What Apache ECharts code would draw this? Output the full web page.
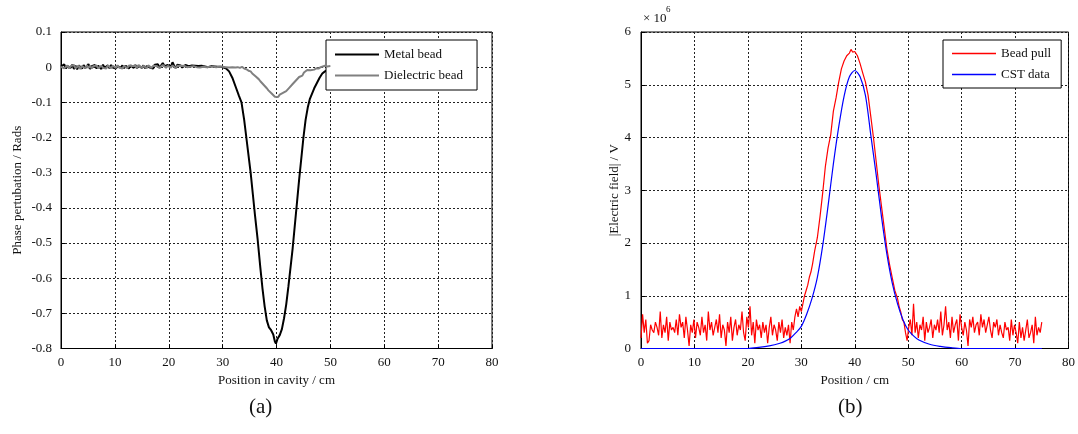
<!DOCTYPE html>
<html>
<head>
<meta charset="utf-8">
<script src="https://cdn.jsdelivr.net/npm/echarts@6/dist/echarts.min.js"></script>
<style>
html,body{margin:0;padding:0;background:#fff;}
#c{width:1078px;height:434px;}
</style>
</head>
<body>
<div id="c"></div>
<script>
// ---------- (a) Phase perturbation ----------
const xTicks = [0, 10, 20, 30, 40, 50, 60, 70, 80];
const leftYTicks = [0.1, 0, -0.1, -0.2, -0.3, -0.4, -0.5, -0.6, -0.7, -0.8];
const sampleStep = 0.3; // cm between flat-region samples

// Metal bead: flat region samples from 0 cm
const metalFlatY = [
0.002,-0.003,0.008,-0.004,0.003,0.006,-0.002,0.007,-0.005,0.004,
-0.006,0.005,0.001,-0.004,0.006,-0.003,0.002,0.009,-0.005,0.003,
-0.002,0.006,-0.004,0.004,0.001,-0.005,0.007,-0.002,0.003,0.005,
-0.003,0.006,-0.001,0.004,-0.004,0.003,0.006,-0.002,0.005,-0.003,
0.004,0.001,-0.004,0.005,0.002,-0.002,0.006,-0.003,0.004,0.001,
-0.002,0.005,-0.003,0.003,0.006,-0.001,0.004,-0.004,0.007,0.002,
0.008,-0.002,0.005,0.012,0.003,-0.001,0.006,0.009,0.002,0.014,
0.004,-0.002,0.007,0.003,0.005,-0.001,0.004,0.006,0.001,0.003,
-0.002,0.005,0.002,0.004,-0.001,0.003,0.002,0.004,0.001,0.002,
0.003,0.000,0.002,0.003,0.001,0.002,0.000,0.001,0.002,0.001,
0.000];
const metalDipX = [30.6,31.2,31.8,32.4,33,33.5,34,34.4,34.8,35.2,35.6,36,36.5,37,37.4,37.8,38.2,38.6,39,39.4,39.7,39.9,40.2,40.6,41,41.4,41.8,42.2,42.6,43,43.4,43.8,44.2,44.6,45,45.4,45.8,46.2,46.6,47,47.5,48,48.5,49,49.5,50];
const metalDipY = [-0.003,-0.012,-0.03,-0.055,-0.08,-0.1,-0.15,-0.2,-0.25,-0.3,-0.36,-0.42,-0.49,-0.57,-0.63,-0.68,-0.72,-0.74,-0.748,-0.76,-0.78,-0.786,-0.772,-0.762,-0.745,-0.714,-0.675,-0.625,-0.57,-0.515,-0.45,-0.385,-0.32,-0.26,-0.2,-0.15,-0.115,-0.09,-0.075,-0.06,-0.045,-0.03,-0.018,-0.012,-0.008,-0.005];

// Dielectric bead
const dielFlatY = [
0.001,0.004,-0.003,0.002,0.005,-0.004,0.003,-0.002,0.006,-0.003,
0.002,0.004,-0.005,0.003,0.001,-0.003,0.005,-0.002,0.004,-0.004,
0.003,0.000,0.005,-0.003,0.002,0.004,-0.002,0.003,-0.004,0.005,
0.001,-0.003,0.004,0.002,-0.002,0.005,-0.001,0.003,-0.004,0.004,
0.002,-0.003,0.005,0.000,0.003,-0.002,0.004,-0.003,0.006,0.001,
-0.002,0.004,0.002,-0.003,0.005,0.001,-0.002,0.004,-0.001,0.003,
0.005,-0.002,0.003,0.006,0.001,-0.002,0.004,0.002,-0.001,0.005,
0.002,-0.003,0.004,0.001,0.003,-0.002,0.004,0.002,0.000,0.003,
0.001,-0.002,0.003,0.002,0.000,0.003,-0.001,0.002,0.001,0.002,
0.000,0.002,0.001,-0.001,0.002,0.001,0.000,0.002,0.001,-0.001,
0.001,0.002,0.000,0.001,-0.001,0.001,0.000,0.001,-0.001];
const dielDipX = [32.8,33.2,33.6,34,34.4,34.8,35.2,35.5,35.8,36.1,36.4,36.7,37,37.3,37.6,37.9,38.2,38.5,38.8,39.1,39.4,39.7,40,40.3,40.6,40.9,41.2,41.5,41.8,42.1,42.4,42.7,43,43.3,43.6,43.9,44.2,44.5,44.8,45.1,45.4,45.7,46,46.3,46.6,47,47.4,47.8,48.2,48.6,49,49.4,50];
const dielDipY = [0.0,-0.002,0.001,-0.004,-0.006,-0.01,-0.012,-0.018,-0.02,-0.026,-0.03,-0.034,-0.04,-0.043,-0.05,-0.055,-0.06,-0.066,-0.07,-0.075,-0.078,-0.084,-0.08,-0.085,-0.078,-0.08,-0.073,-0.075,-0.068,-0.066,-0.058,-0.055,-0.048,-0.045,-0.038,-0.034,-0.028,-0.03,-0.024,-0.015,-0.01,-0.008,-0.006,-0.009,-0.005,-0.007,-0.003,-0.004,0.0,0.002,0.004,0.002,0.003];

// ---------- (b) Electric field (units of 10^6 V) ----------
const rightYTicks = [0, 1, 2, 3, 4, 5, 6];
const beadLeftY = [
0.2,0.65,0.3,0.55,0.1,0.15,0.45,0.35,0.3,0.5,
0.4,0.25,0.7,0.2,0.45,0.3,0.6,0.15,0.5,0.35,
0.4,0.3,0.55,0.25,0.65,0.4,0.5,0.2,0.6,0.35,
0.05,0.45,0.3,0.55,0.2,0.5,0.4,0.25,0.6,0.3,
0.45,0.15,0.7,0.35,0.5,0.25,0.4,0.55,0.3,0.65,
0.2,0.45,0.35,0.05,0.5,0.3,0.6,0.15,0.4,0.55,
0.25,0.45,0.35,0.7,0.3,0.15,0.6,0.4,0.8,0.25,
0.5,0.1,0.55,0.35,0.45,0.2,0.5,0.3,0.45,0.1,
0.4,0.6,0.25,0.45,0.35,0.15,0.5,0.3,0.55,0.2,
0.4,0.25,0.45,0.1,0.5,0.35,0.6];
const beadPeakX = [29.1,29.4,29.7,30,30.3,30.6,30.9,31.2,31.5,31.8,32.1,32.5,33,33.5,34,34.5,35,35.5,36,36.5,37,37.5,38,38.5,39,39.3,39.6,40,40.5,41,41.5,42,42.5,43,43.5,44,44.5,45,45.5,46,46.5,47,47.5,48,48.3,48.6,48.9];
const beadPeakY = [0.75,0.6,0.8,0.7,0.85,1.0,1.1,1.2,1.35,1.45,1.6,1.85,2.1,2.5,2.95,3.45,3.8,4.05,4.5,4.75,5.05,5.3,5.45,5.55,5.6,5.67,5.62,5.63,5.55,5.4,5.22,5.05,4.8,4.4,4.0,3.55,3.1,2.7,2.3,1.9,1.6,1.35,1.1,0.95,0.8,0.7,0.55];
const beadRightStart = 49.2;
const beadRightY = [
0.5,0.3,0.15,0.4,0.55,0.25,0.85,0.3,0.5,0.2,
0.45,0.35,0.6,0.15,0.5,0.3,0.4,0.55,0.2,0.45,
0.35,0.55,0.3,0.7,0.25,0.45,0.8,0.35,0.5,0.2,
0.6,0.3,0.45,0.55,0.15,0.65,0.4,0.25,0.5,0.35,
0.05,0.55,0.4,0.6,0.3,0.45,0.5,0.25,0.65,0.4,
0.55,0.3,0.45,0.6,0.35,0.2,0.5,0.4,0.55,0.25,
0.45,0.3,0.2,0.5,0.35,0.4,0.15,0.55,0.25,0.45,
0.3,0.1,0.5,0.2,0.4,0.15,0.35,0.55,0.2,0.3,
0.45,0.1,0.6,0.25,0.4,0.3,0.5];
const cstX = [0,10,20,22,24,26,27,28,29,30,31,32,33,34,35,36,37,38,39,40,41,42,43,44,45,46,47,48,49,50,51,52,54,56,58,60,70,75];
const cstY = [0,0,0,0.02,0.05,0.1,0.14,0.2,0.3,0.42,0.65,0.95,1.35,1.95,2.7,3.5,4.2,4.78,5.15,5.27,5.15,4.8,4.05,3.3,2.5,1.8,1.25,0.85,0.55,0.35,0.24,0.16,0.08,0.04,0.015,0,0,0];

// ---------- build series data ----------
const zip = (xs, ys) => xs.map((x, i) => [x, ys[i]]);
const fromStep = (start, ys) => ys.map((y, i) => [+(start + i * sampleStep).toFixed(2), y]);
const metalData = fromStep(0, metalFlatY).concat(zip(metalDipX, metalDipY));
const dielData = fromStep(0, dielFlatY).concat(zip(dielDipX, dielDipY));
const beadData = fromStep(0, beadLeftY).concat(zip(beadPeakX, beadPeakY)).concat(fromStep(beadRightStart, beadRightY));
const cstData = zip(cstX, cstY);

const FONT = 'Liberation Serif';
const txt = {color: '#111', fontFamily: FONT, fontSize: 13};
const gridLine = {show: true, lineStyle: {color: '#222', type: [2, 2], width: 1}};
function xAx(idx, name) {
  return {
    type: 'value', gridIndex: idx, min: xTicks[0], max: xTicks[xTicks.length - 1], interval: 10,
    name: name, nameLocation: 'middle', nameGap: 25, nameTextStyle: txt,
    axisLine: {show: true, onZero: false, lineStyle: {color: '#000', width: 1}},
    axisTick: {show: true, inside: true, length: 4, lineStyle: {color: '#000'}},
    axisLabel: Object.assign({margin: 8}, txt),
    splitLine: gridLine
  };
}
const legendBase = {
  orient: 'vertical', top: 40, icon: 'rect', itemWidth: 44, itemGap: 8,
  borderColor: '#000', borderWidth: 1, borderRadius: 0, backgroundColor: '#fff',
  textStyle: Object.assign({lineHeight: 13}, txt), selectedMode: false
};
const option = {
  animation: false,
  backgroundColor: '#fff',
  grid: [
    {left: 61, top: 32, width: 431, height: 316.5, show: true, borderColor: '#000', borderWidth: 1, backgroundColor: 'transparent'},
    {left: 641, top: 32, width: 431, height: 316.5, show: true, borderColor: '#000', borderWidth: 1, backgroundColor: 'transparent'}
  ],
  xAxis: [xAx(0, 'Position in cavity / cm'), xAx(1, 'Position / cm')],
  yAxis: [
    {
      type: 'value', gridIndex: 0, min: leftYTicks[leftYTicks.length - 1], max: leftYTicks[0], interval: 0.1,
      name: 'Phase pertubation / Rads', nameLocation: 'middle', nameGap: 37, nameRotate: 90, nameTextStyle: txt,
      axisLine: {show: true, onZero: false, lineStyle: {color: '#000', width: 1}},
      axisTick: {show: true, inside: true, length: 4, lineStyle: {color: '#000'}},
      axisLabel: Object.assign({margin: 9, formatter: v => { const r = Math.round(v * 10) / 10; return r === 0 ? '0' : String(r); }}, txt),
      splitLine: gridLine
    },
    {
      type: 'value', gridIndex: 1, min: rightYTicks[0], max: rightYTicks[rightYTicks.length - 1], interval: 1,
      name: '|Electric field| / V', nameLocation: 'middle', nameGap: 20, nameRotate: 90, nameTextStyle: txt,
      axisLine: {show: true, onZero: false, lineStyle: {color: '#000', width: 1}},
      axisTick: {show: true, inside: true, length: 4, lineStyle: {color: '#000'}},
      axisLabel: Object.assign({margin: 10}, txt),
      splitLine: gridLine
    }
  ],
  legend: [
    Object.assign({}, legendBase, {
      data: ['Metal bead', 'Dielectric bead'], left: 326, itemHeight: 2.2, padding: [8, 14, 8, 9]
    }),
    Object.assign({}, legendBase, {
      data: ['Bead pull', 'CST data'], left: 943, itemHeight: 1.3, padding: [7, 10, 7, 9]
    })
  ],
  series: [
    {name: 'Metal bead', type: 'line', xAxisIndex: 0, yAxisIndex: 0, data: metalData, showSymbol: false, symbol: 'none',
     lineStyle: {color: '#000', width: 2}, itemStyle: {color: '#000'}, z: 3},
    {name: 'Dielectric bead', type: 'line', xAxisIndex: 0, yAxisIndex: 0, data: dielData, showSymbol: false, symbol: 'none',
     lineStyle: {color: '#808080', width: 2}, itemStyle: {color: '#808080'}, z: 4},
    {name: 'Bead pull', type: 'line', xAxisIndex: 1, yAxisIndex: 1, data: beadData, showSymbol: false, symbol: 'none',
     lineStyle: {color: '#ff0000', width: 1.2}, itemStyle: {color: '#ff0000'}, z: 3},
    {name: 'CST data', type: 'line', xAxisIndex: 1, yAxisIndex: 1, data: cstData, showSymbol: false, symbol: 'none', smooth: 0.3,
     lineStyle: {color: '#0000ff', width: 1.2}, itemStyle: {color: '#0000ff'}, z: 4}
  ],
  graphic: [
    {type: 'text', left: 643, top: 12, style: {text: '× 10', fill: '#111', font: '13px "Liberation Serif"'}},
    {type: 'text', left: 666, top: 5, style: {text: '6', fill: '#111', font: '9px "Liberation Serif"'}},
    {type: 'text', left: 249, top: 397, style: {text: '(a)', fill: '#111', font: '21px "Liberation Serif"'}},
    {type: 'text', left: 838, top: 397, style: {text: '(b)', fill: '#111', font: '21px "Liberation Serif"'}}
  ]
};
const chart = echarts.init(document.getElementById('c'), null, {renderer: 'canvas'});
chart.setOption(option);
</script>
</body>
</html>
